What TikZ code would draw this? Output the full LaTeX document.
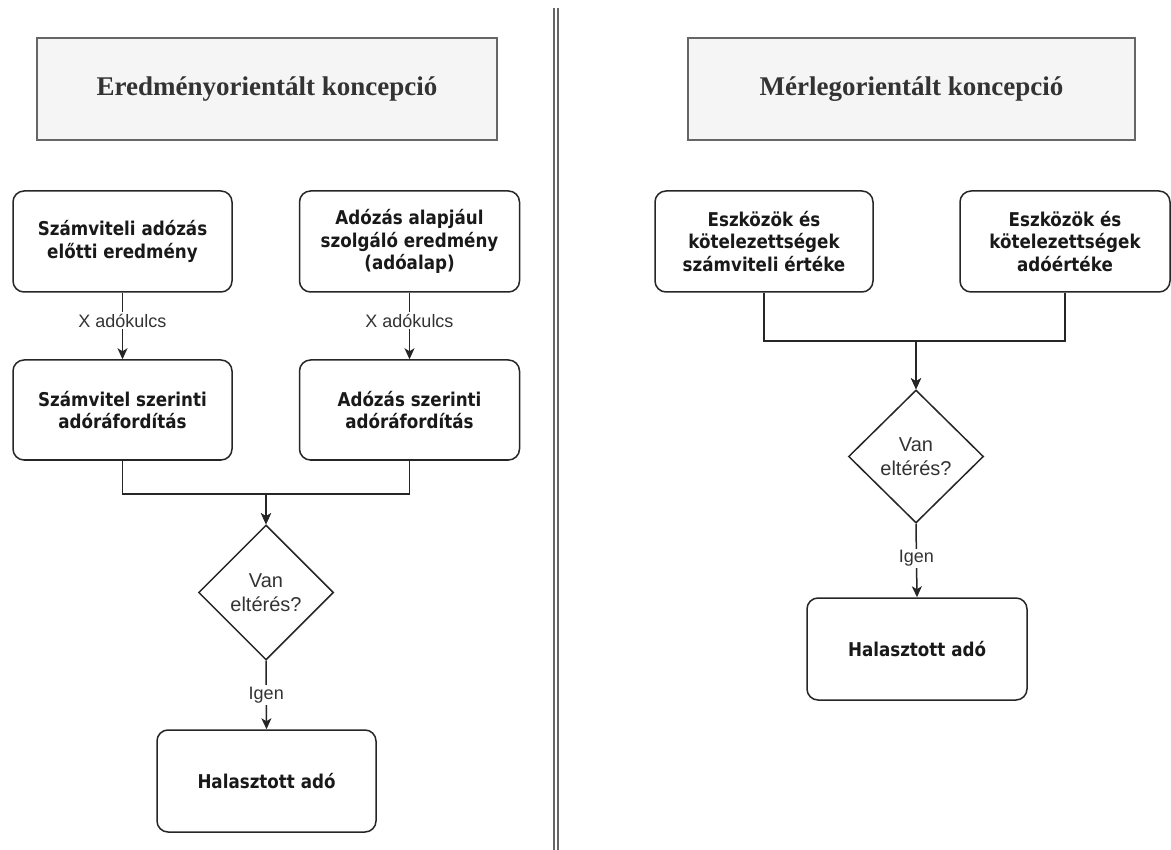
\documentclass[tikz,border=0pt]{standalone}
\usepackage{fontspec}
\setmainfont{Liberation Sans}
\newfontfamily\boxfont{DejaVu Sans}[FakeStretch=0.88]
\newfontfamily\headfont{Liberation Serif}
\usetikzlibrary{shapes.geometric,arrows.meta}
\definecolor{headfill}{HTML}{F5F5F5}
\definecolor{headline}{HTML}{666666}
\definecolor{txtgray}{HTML}{333333}
\tikzset{
  header/.style={draw=headline, line width=1.5pt, fill=headfill, minimum height=102pt,
    inner sep=0pt, font=\headfont\bfseries\fontsize{27}{32}\selectfont, text=txtgray},
  procbox/.style={draw=black!85, line width=1.5pt, rounded corners=11pt, fill=white,
    minimum height=101pt, inner sep=0pt, align=center,
    font=\boxfont\bfseries\fontsize{19}{22.5}\selectfont, text=black!90},
  decision/.style={diamond, draw=black!85, line width=1.5pt, fill=white, inner sep=0pt,
    minimum width=135pt, minimum height=135pt, align=center,
    font=\fontsize{20}{24}\selectfont, text=txtgray},
  arr/.style={draw=black!85, line width=1.5pt, -{Stealth[length=11pt,width=10pt,inset=3pt]}},
  elabel/.style={fill=white, inner sep=1.5pt, font=\fontsize{18}{21}\selectfont, text=txtgray},
  divider/.style={draw=headline, line width=2pt}
}
\begin{document}
\begin{tikzpicture}[x=1pt,y=-1pt]
\useasboundingbox (0,0) rectangle (1171,850);
\fill[white] (0,0) rectangle (1171,850);

% divider
\coordinate (v1t) at (553.5,8);
\coordinate (v1b) at (553.5,850);
\coordinate (v2t) at (558,8);
\coordinate (v2b) at (558,850);
\draw[divider] (v1t) -- (v1b);
\draw[divider] (v2t) -- (v2b);

% ---------- left side ----------
\node[header, minimum width=460pt] (hL) at (267,89) {Eredményorientált koncepció};

\node[procbox, minimum width=219pt] (A) at (122.5,241.5) {Számviteli adózás\\előtti eredmény};
\node[procbox, minimum width=220pt] (B) at (409.5,241.5) {Adózás alapjául\\szolgáló eredmény\\(adóalap)};
\node[procbox, minimum width=219pt, minimum height=100pt] (C) at (122.5,410) {Számvitel szerinti\\adóráfordítás};
\node[procbox, minimum width=220pt, minimum height=100pt] (D) at (409.5,410) {Adózás szerinti\\adóráfordítás};
\node[decision] (dL) at (266,592.5) {Van\\eltérés?};
\node[procbox, minimum width=219pt, minimum height=102pt] (hzL) at (266.5,781) {Halasztott adó};
\coordinate (mL) at (266,494);

\draw[arr] (A) -- node[elabel, pos=0.42] {X adókulcs} (C);
\draw[arr] (B) -- node[elabel, pos=0.42] {X adókulcs} (D);
\draw[arr] (C.south) |- (mL) -- (dL.north);
\draw[arr] (D.south) |- (mL) -- (dL.north);
\draw[arr] (dL.south) -- node[elabel, pos=0.5] {Igen} (hzL.north);

% ---------- right side ----------
\node[header, minimum width=447pt] (hR) at (911.5,89) {Mérlegorientált koncepció};

\node[procbox, minimum width=218pt] (E) at (764,241.5) {Eszközök és\\kötelezettségek\\számviteli értéke};
\node[procbox, minimum width=210pt] (F) at (1065,241.5) {Eszközök és\\kötelezettségek\\adóértéke};
\node[decision, minimum height=133pt] (dR) at (916,456.5) {Van\\eltérés?};
\node[procbox, minimum width=220pt, minimum height=102pt] (hzR) at (917,649) {Halasztott adó};
\coordinate (mR) at (916,341);

\draw[arr] (E.south) |- (mR) -- (dR.north);
\draw[arr] (F.south) |- (mR) -- (dR.north);
\draw[arr] (dR.south) -- node[elabel, pos=0.47] {Igen} (hzR.north);
\end{tikzpicture}
\end{document}
